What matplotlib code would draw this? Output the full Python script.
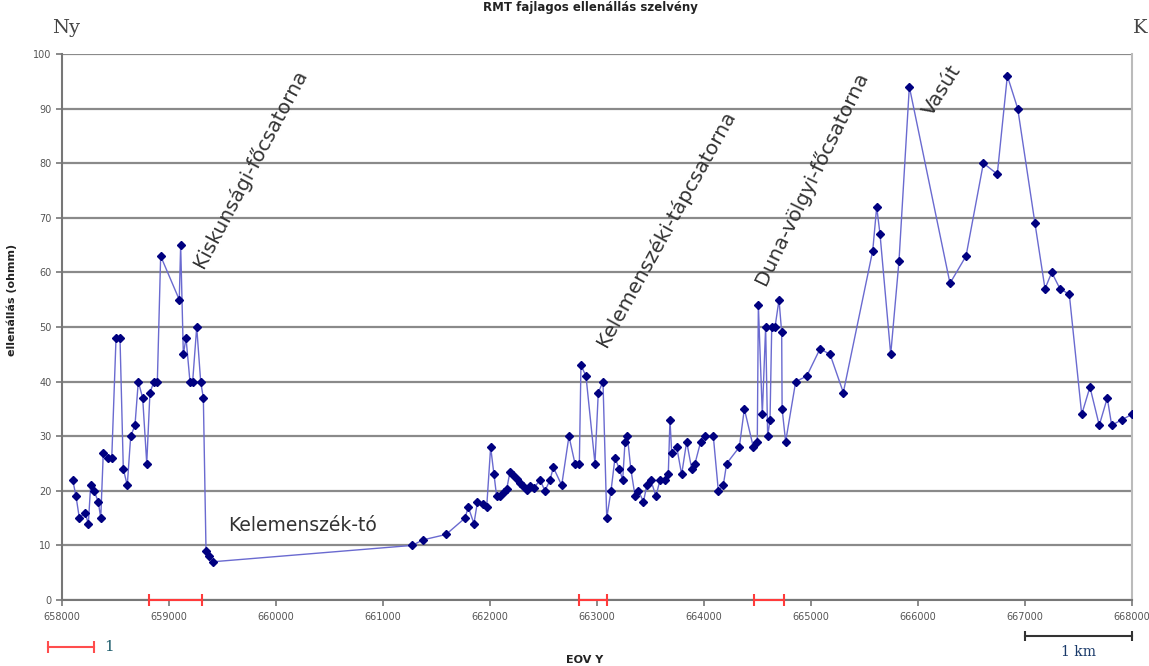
import matplotlib.pyplot as plt
from matplotlib.lines import Line2D

# RMT profile: position (EOV Y, m) and apparent resistivity (ohmm)
eov_y = [658100, 658131, 658162, 658215, 658246, 658268, 658299, 658339, 658362, 658386,
         658433, 658465, 658505, 658542, 658573, 658610, 658642, 658682, 658713, 658754,
         658792, 658822, 658860, 658891, 658922, 659096, 659109, 659134, 659159, 659196,
         659221, 659259, 659296, 659321, 659346, 659374, 659408,
         661274, 661371, 661589, 661766, 661797, 661850, 661883, 661937, 661969, 662006,
         662037, 662062, 662093, 662131, 662156, 662187, 662218, 662249, 662280, 662311,
         662343, 662374, 662411, 662467, 662514, 662561, 662592, 662670, 662738, 662794,
         662835, 662850, 662897, 662981, 663012, 663056, 663091, 663131, 663168, 663209,
         663240, 663262, 663284, 663316, 663356, 663387, 663434, 663466, 663502, 663551,
         663589, 663636, 663666, 663682, 663698, 663745, 663791, 663838, 663885, 663916,
         663969, 664009, 664087, 664134, 664180, 664212, 664330, 664377, 664461, 664498,
         664508, 664545, 664576, 664595, 664617, 664633, 664664, 664701, 664726, 664730,
         664763, 664857, 664960, 665084, 665178, 665302, 665577, 665614, 665645, 665745,
         665822, 665919, 666299, 666449, 666611, 666741, 666835, 666932, 667093, 667187,
         667250, 667327, 667414, 667530, 667607, 667694, 667769, 667810, 667903, 668000]
rho = [22, 19, 15, 16, 14, 21, 20, 18, 15, 27,
       26, 26, 48, 48, 24, 21, 30, 32, 40, 37,
       25, 38, 40, 40, 63, 55, 65, 45, 48, 40,
       40, 50, 40, 37, 9, 8, 7,
       10, 11, 12, 15, 17, 14, 18, 17.6, 17, 28,
       23, 19, 19, 19.8, 20.3, 23.5, 22.9, 22.1, 21.4, 20.8,
       20.1, 20.9, 20.5, 22, 20, 22, 24.3, 21, 30, 25,
       25, 43, 41, 25, 38, 40, 15, 20, 26, 24,
       22, 29, 30, 24, 19, 20, 18, 21, 22, 19,
       22, 22, 23, 33, 27, 28, 23, 29, 24, 25,
       29, 30, 30, 20, 21, 25, 28, 35, 28, 29,
       54, 34, 50, 30, 33, 50, 50, 55, 49, 35,
       29, 40, 41, 46, 45, 38, 64, 72, 67, 45,
       62, 94, 58, 63, 80, 78, 96, 90, 69, 57,
       60, 57, 56, 34, 39, 32, 37, 32, 33, 34]

xticks = list(range(658000, 668001, 1000))
yticks = list(range(0, 101, 10))

# canal / lake crossings marked in red on the x axis
crossings = [(658810, 659310), (662830, 663090), (664470, 664750)]

labels = ['Kiskunsági-főcsatorna', 'Kelemenszéki-tápcsatorna',
          'Duna-völgyi-főcsatorna', 'Vasút', 'Kelemenszék-tó']
label_x = [659757, 663645, 665000, 666224, 660252]
label_y = [79.1, 68.1, 77.3, 93.4, 13.7]
label_rot = [62, 61, 64, 58, 0]
label_size = [14.5, 14.5, 14.5, 14.5, 13.5]

fig = plt.figure(figsize=(11.49, 6.66), dpi=100)
ax = fig.add_axes([62 / 1149, 1 - 600 / 666, 1070 / 1149, 546 / 666])

ax.plot(eov_y, rho, color='#6a6ad0', lw=1.0, marker='D', ms=4.2,
        mfc='#000080', mec='#000080', zorder=3)

ax.set_xlim(658000, 668000)
ax.set_ylim(0, 100)
ax.set_xticks(xticks)
ax.set_yticks(yticks)
ax.set_xticklabels([str(v) for v in xticks], fontsize=7, color='#555555')
ax.set_yticklabels([str(v) for v in yticks], fontsize=7, color='#555555')
ax.tick_params(axis='both', length=4, color='#777777', width=1.2)
ax.tick_params(axis='x', pad=5)
ax.grid(axis='y', color='#8a8a8a', lw=1.6)
ax.set_axisbelow(True)
ax.spines['top'].set_visible(False)
ax.spines['left'].set_color('#777777')
ax.spines['left'].set_linewidth(1.5)
ax.spines['bottom'].set_color('#777777')
ax.spines['bottom'].set_linewidth(1.5)
ax.spines['right'].set_color('#bbbbbb')
ax.spines['right'].set_linewidth(1.5)

for a, b in crossings:
    ax.plot([a, b], [0, 0], color='#ff3b3b', lw=1.5, marker='|', ms=9,
            mew=1.5, clip_on=False, zorder=4)

for txt, x, y, r, fs in zip(labels, label_x, label_y, label_rot, label_size):
    ax.text(x, y, txt, rotation=r, rotation_mode='anchor', ha='center',
            va='center', fontsize=fs, color='#333333')

# scale bar 1 km
ax.plot([667000, 668000], [-0.066, -0.066], color='#333333', lw=1.5,
        marker='|', ms=7, mew=1.5, transform=ax.get_xaxis_transform(), clip_on=False)
ax.text(667500, -0.095, '1 km', transform=ax.get_xaxis_transform(), ha='center',
        va='center', fontsize=10, family='DejaVu Serif', color='#1a3a6a')

# legend-like red bar bottom left
fig.add_artist(Line2D([48 / 1149, 94 / 1149], [1 - 647 / 666] * 2, color='#ff4d4d',
                      lw=1.5, marker='|', ms=9, mew=1.5))
fig.text(104 / 1149, 1 - 647 / 666, '1', fontsize=11, family='DejaVu Serif',
         color='#1a5a6a', va='center')

fig.text(585 / 1149, 1 - 660 / 666, 'EOV Y', fontsize=8, weight='bold',
         ha='center', va='center', color='#222222')
fig.text(12 / 1149, 1 - 300 / 666, 'ellenállás (ohmm)', fontsize=8, weight='bold',
         rotation=90, ha='center', va='center', color='#222222')
fig.text(590 / 1149, 1 - 1 / 666, 'RMT fajlagos ellenállás szelvény', fontsize=8.5,
         weight='bold', ha='center', va='top', color='#222222')
fig.text(66 / 1149, 1 - 28 / 666, 'Ny', fontsize=14, family='DejaVu Serif',
         ha='center', va='center', color='#444444')
fig.text(1140 / 1149, 1 - 28 / 666, 'K', fontsize=14, family='DejaVu Serif',
         ha='center', va='center', color='#444444')

fig.savefig('out.png', dpi=100)
